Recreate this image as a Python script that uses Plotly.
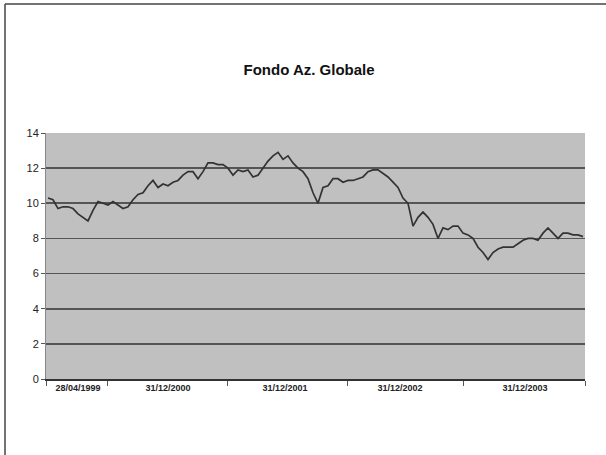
import plotly.graph_objects as go

title_text = "Fondo Az. Globale"

values = [
    10.3, 10.2, 9.7, 9.8, 9.8, 9.7, 9.4, 9.2, 9.0, 9.6,
    10.1, 10.0, 9.9, 10.1, 9.9, 9.7, 9.8, 10.2, 10.5, 10.6,
    11.0, 11.3, 10.9, 11.1, 11.0, 11.2, 11.3, 11.6, 11.8, 11.8,
    11.4, 11.8, 12.3, 12.3, 12.2, 12.2, 12.0, 11.6, 11.9, 11.8,
    11.9, 11.5, 11.6, 12.0, 12.4, 12.7, 12.9, 12.5, 12.7, 12.3,
    12.0, 11.8, 11.4, 10.6, 10.0, 10.9, 11.0, 11.4, 11.4, 11.2,
    11.3, 11.3, 11.4, 11.5, 11.8, 11.9, 11.9, 11.7, 11.5, 11.2,
    10.9, 10.3, 10.0, 8.7, 9.2, 9.5, 9.2, 8.8, 8.0, 8.6,
    8.5, 8.7, 8.7, 8.3, 8.2, 8.0, 7.5, 7.2, 6.8, 7.2,
    7.4, 7.5, 7.5, 7.5, 7.7, 7.9, 8.0, 8.0, 7.9, 8.3,
    8.6, 8.3, 8.0, 8.3, 8.3, 8.2, 8.2, 8.1,
]
categories = list(range(len(values)))

# Category axis labels and the category index each one sits on
tick_labels = ["28/04/1999", "31/12/2000", "31/12/2001", "31/12/2002", "31/12/2003"]
tick_label_index = [6, 24, 47.4, 70.4, 95.4]
# Category separators carrying tick marks
tick_mark_index = [-0.4, 11.8, 35.8, 59.8, 83.0, 107.4]

y_ticks = [0, 2, 4, 6, 8, 10, 12, 14]

fig = go.Figure()
fig.add_trace(go.Scatter(
    x=categories, y=values, mode="lines",
    line=dict(color="#333333", width=1.7),
    showlegend=False, hoverinfo="skip",
))

narrow = "Liberation Sans Narrow, Arial Narrow, Liberation Sans, Arial, sans-serif"

W, H = 606, 455
L, R, T, B = 46, 21, 133, 76
PW, PH = W - L - R, H - T - B

fig.update_layout(
    width=W, height=H,
    paper_bgcolor="white",
    plot_bgcolor="#c0c0c0",
    margin=dict(l=L, r=R, t=T, b=B),
    title=dict(text=title_text, x=0.51, xanchor="center", y=1 - 70 / H, yanchor="middle",
               font=dict(family=narrow, size=15, color="#111", weight="bold")),
    xaxis=dict(
        range=[-0.4, len(values) - 0.6],
        tickmode="array", tickvals=tick_label_index, ticktext=tick_labels,
        ticks="", showgrid=False, zeroline=False,
        showline=True, linecolor="#333", linewidth=1.5,
        tickfont=dict(family=narrow, size=9, color="#222", weight="bold"),
        minor=dict(tickmode="array", tickvals=tick_mark_index, ticks="outside",
                   ticklen=5, tickcolor="#555", showgrid=False),
    ),
    yaxis=dict(
        range=[0, 14], tickmode="array", tickvals=y_ticks,
        ticks="outside", ticklen=4, tickcolor="#555",
        showgrid=True, gridcolor="#555555", gridwidth=1.6,
        zeroline=False, showline=True, linecolor="#888", linewidth=1,
        tickfont=dict(family=narrow, size=11, color="#222"),
    ),
    shapes=[
        dict(type="line", xref="paper", yref="paper",
             x0=-(L - 5) / PW, x1=(W - L) / PW, y0=(H - B - 4) / PH, y1=(H - B - 4) / PH,
             line=dict(color="#444", width=1.5)),
        dict(type="line", xref="paper", yref="paper",
             x0=-(L - 5) / PW, x1=-(L - 5) / PW, y0=(H - B - 4) / PH, y1=-B / PH,
             line=dict(color="#444", width=1.5)),
    ],
)

fig.write_html(
    "out.html",
    config={"displayModeBar": False, "staticPlot": True},
    post_script="document.body.style.margin='0';document.body.style.overflow='hidden';",
)
